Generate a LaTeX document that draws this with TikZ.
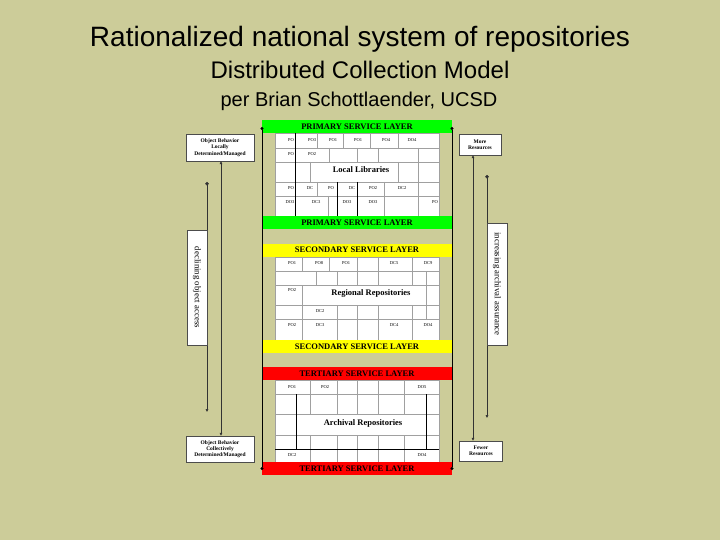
\documentclass[tikz,border=0pt]{standalone}
\usepackage{fontspec}
\setmainfont{Liberation Serif}
\setsansfont{Liberation Sans}
\usetikzlibrary{arrows.meta}
\definecolor{khaki}{HTML}{CCCC99}
\definecolor{pgreen}{HTML}{00FF00}
\definecolor{pyellow}{HTML}{FFFF00}
\definecolor{pred}{HTML}{FF0000}
\definecolor{gridgray}{HTML}{A0A0A0}
\newcommand{\gL}{275}
\newcommand{\gR}{439}
% service layer bar: name, y, colour, text
\newcommand{\lbar}[4]{%
  \node[layerbar, fill=#3] (#1) at (357,#2) {#4};}
% grid block: top, bottom
\newcommand{\gblock}[2]{%
  \draw[gline, fill=white] (\gL,#1) rectangle (\gR,#2);}
% horizontal grid lines
\newcommand{\ghl}[1]{%
  \foreach \y in {#1}{\draw[gline] (\gL,\y) -- (\gR,\y);}}
% vertical grid lines in one row: top, bottom, x list
\newcommand{\gvl}[3]{%
  \foreach \x in {#3}{\draw[gline] (\x,#1) -- (\x,#2);}}
% dark vertical lines: top, bottom, x list
\newcommand{\gdk}[3]{%
  \foreach \x in {#3}{\draw[line width=0.6pt] (\x,#1) -- (\x,#2);}}
% cell labels: prefix, y, list x/text
\newcommand{\glab}[3]{%
  \foreach \x/\t [count=\k] in {#3}{\node[cell] (#1\k) at (\x,#2) {\t};}}

\begin{document}
\begin{tikzpicture}[x=1pt, y=-1pt,
  layerbar/.style={minimum width=190pt, minimum height=13pt, inner sep=0pt,
    font=\fontsize{8.5}{9}\selectfont\bfseries},
  gline/.style={gridgray, line width=0.4pt},
  cell/.style={inner sep=0.5pt, font=\fontsize{4.5}{5}\selectfont},
  repo/.style={fill=white, inner sep=1pt, font=\fontsize{8.5}{9}\selectfont\bfseries},
  sidebox/.style={draw=black!70, fill=white, line width=0.4pt, inner sep=0.5pt,
    align=center, font=\fontsize{5.5}{6.3}\selectfont\bfseries},
  tallbox/.style={draw=black!70, fill=white, line width=0.4pt, inner sep=0pt,
    rotate=-90, font=\fontsize{8.8}{9}\selectfont},
  harrow/.style={{Latex[length=3pt,width=3pt]}-{Latex[length=3pt,width=3pt]},
    line width=0.5pt, black!80},
  darrow/.style={{Circle[length=3.5pt]}-{Latex[length=3pt,width=3pt]},
    line width=0.5pt, black!80},
  frame/.style={{Circle[length=3pt]}-{Circle[length=3pt]}, line width=0.6pt}]
\useasboundingbox (0,0) rectangle (720,540);
\fill[khaki] (0,0) rectangle (720,540);
% titles
\node[font=\sffamily\fontsize{28}{32}\selectfont] (title) at (360,39)
  {Rationalized national system of repositories};
\node[font=\sffamily\fontsize{24}{28}\selectfont] (sub) at (360,70)
  {Distributed Collection Model};
\node[font=\sffamily\fontsize{20}{24}\selectfont] (per) at (359,101)
  {per Brian Schottlaender, UCSD};
% primary grid
\gblock{133}{216}
\ghl{148,162,182,196}
\gvl{133}{148}{317,343,370,398}
\gvl{148}{162}{329,357,378,418}
\gvl{162}{182}{310,398,418}
\gvl{182}{196}{317,357,384,418}
\gvl{196}{216}{328,384,418}
\gdk{133}{216}{295}
\gdk{182}{216}{337,357}
\node[repo] (loc) at (361,170) {Local Libraries};
\glab{pa}{140}{291/PO,312/PO3,333/PO1,358/PO1,386/PO4,412/DO4}
\glab{pb}{154}{291/PO,312/PO2}
\glab{pc}{188}{291/PO,310/DC,331/PO,352/DC,373/PO2,402/DC2}
\glab{pd}{202}{290/DO3,316/DC3,347/DO3,373/DO3,435/PO}
% secondary grid
\gblock{257}{340}
\ghl{271,285,305,319}
\gvl{257}{271}{302,329,357,378,412}
\gvl{271}{285}{316,337,357,378,412,426}
\gvl{285}{305}{302,426}
\gvl{305}{319}{302,337,357,378,412,426}
\gvl{319}{340}{302,337,357,378,412}
\node[repo] (reg) at (371,293) {Regional Repositories};
\glab{sa}{263}{292/PO1,319/PO8,346/PO1,394/DC5,428/DC9}
\glab{sb}{290}{292/PO2}
\glab{sc}{311}{320/DC2}
\glab{sd}{325}{292/PO2,320/DC3,394/DC4,428/DO4}
% tertiary grid
\gblock{380}{462}
\ghl{394,414,435}
\gvl{380}{414}{310,337,357,378,404}
\gvl{435}{462}{310,337,357,378,404}
\gdk{394}{449}{296,426}
\draw[line width=0.6pt] (\gL,449) -- (\gR,449);
\node[repo] (arc) at (363,423) {Archival Repositories};
\glab{ta}{387}{292/PO1,325/PO2,422/DO5}
\glab{tb}{455}{292/DC2,422/DO4}
% service layers
\lbar{primtop}{126.5}{pgreen}{PRIMARY SERVICE LAYER}
\lbar{primbot}{222.5}{pgreen}{PRIMARY SERVICE LAYER}
\lbar{sectop}{250}{pyellow}{SECONDARY SERVICE LAYER}
\lbar{secbot}{346.5}{pyellow}{SECONDARY SERVICE LAYER}
\lbar{tertop}{373.5}{pred}{TERTIARY SERVICE LAYER}
\lbar{terbot}{468.5}{pred}{TERTIARY SERVICE LAYER}
% frame lines
\coordinate (fla) at (262,127);
\coordinate (flb) at (262,470);
\coordinate (fra) at (452,127);
\coordinate (frb) at (452,470);
\draw[frame] (fla) -- (flb);
\draw[frame] (fra) -- (frb);
% left side
\node[sidebox, minimum width=68pt, minimum height=27pt] (locb) at (220,147.5)
  {Object Behavior\\Locally\\Determined/Managed};
\node[sidebox, minimum width=68pt, minimum height=26pt] (colb) at (220,449)
  {Object Behavior\\Collectively\\Determined/Managed};
\coordinate (larr) at (221,0);
\draw[harrow] (locb.south -| larr) -- (colb.north -| larr);
\coordinate (lda) at (207,182);
\coordinate (ldb) at (207,412);
\draw[darrow] (lda) -- (ldb);
\node[tallbox, minimum width=115pt, minimum height=20pt] (decl) at (197,287.5)
  {declining object access};
% right side
\node[sidebox, minimum width=42pt, minimum height=21pt] (moreb) at (480,144.5)
  {More\\Resources};
\node[sidebox, minimum width=43pt, minimum height=20pt] (fewb) at (481,451)
  {Fewer\\Resources};
\coordinate (rarr) at (473,0);
\draw[harrow] (moreb.south -| rarr) -- (fewb.north -| rarr);
\coordinate (rda) at (487,175);
\coordinate (rdb) at (487,418);
\draw[darrow] (rda) -- (rdb);
\node[tallbox, minimum width=122pt, minimum height=20pt] (incr) at (497,284)
  {increasing archival assurance};
\end{tikzpicture}
\end{document}
